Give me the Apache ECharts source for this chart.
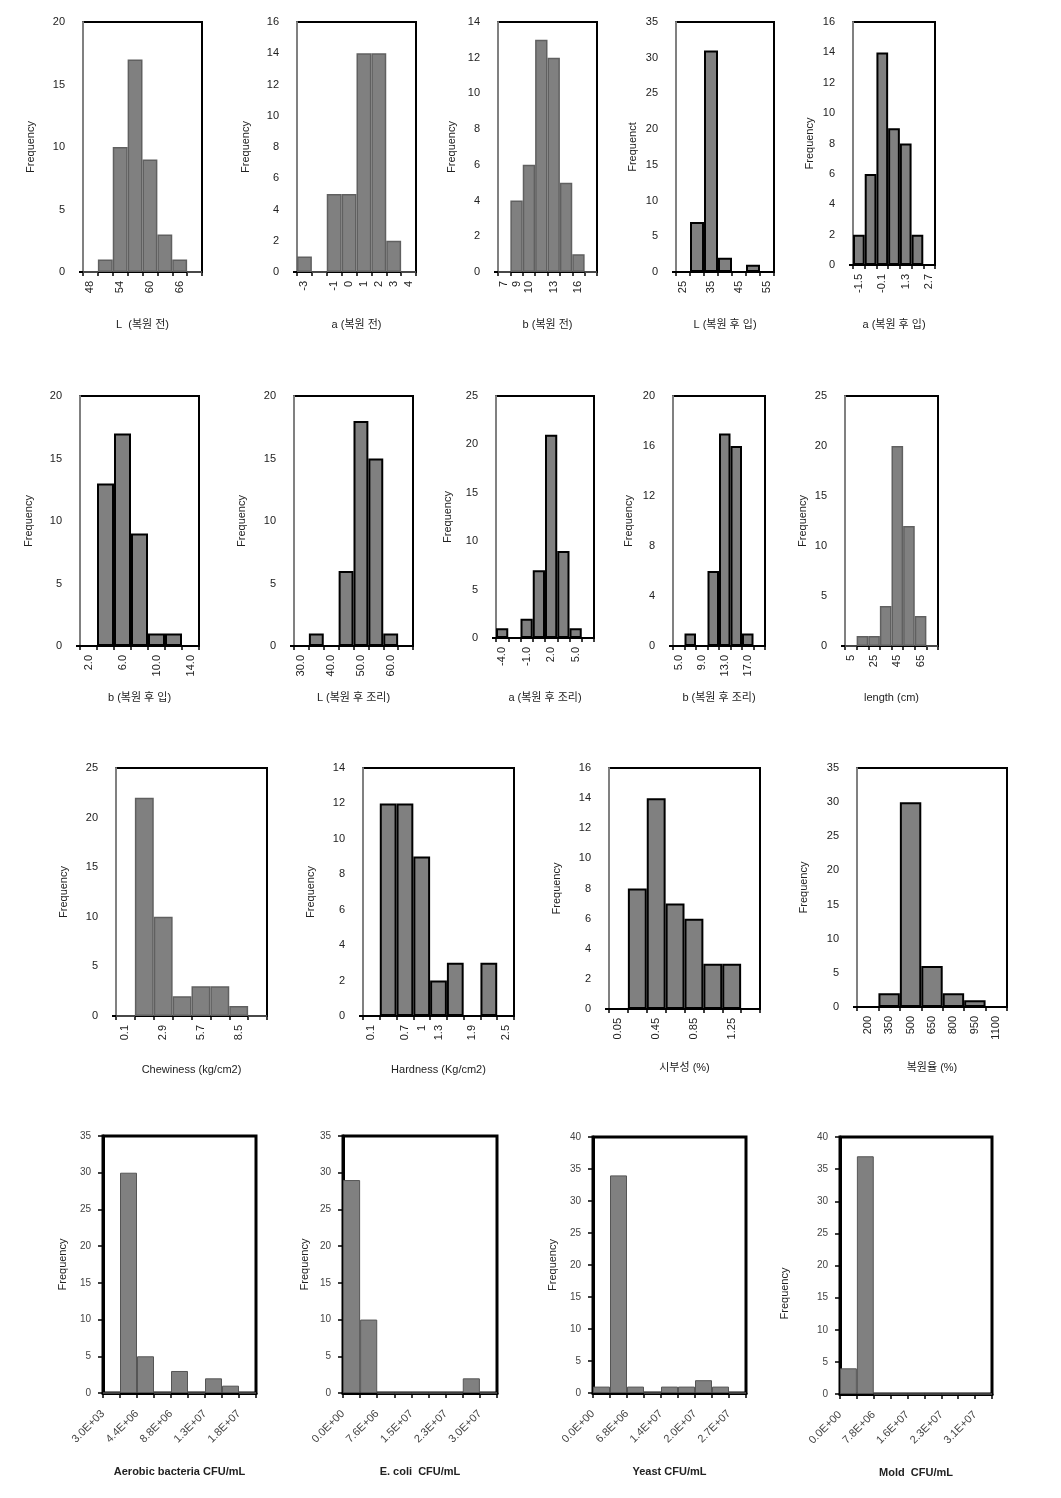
<!DOCTYPE html>
<html><head><meta charset="utf-8">
<script src="https://cdn.jsdelivr.net/npm/echarts@6/dist/echarts.min.js"></script>
<style>html,body{margin:0;padding:0;background:#fff}#c{width:1061px;height:1498px}</style>
</head><body><div id="c"></div>
<script>
// ---------- DATA ----------
// Row 1
const L_before_labels = ['48','','54','','60','','66',''];
const L_before_counts = [0,1,10,17,9,3,1,0];
const a_before_labels = ['-3','','-1','0','1','2','3','4'];
const a_before_counts = [1,0,5,5,14,14,2,0];
const b_before_labels = ['7','9','10','','13','','16',''];
const b_before_counts = [0,4,6,13,12,5,1,0];
const L_imb_labels = ['25','','35','','45','','55'];
const L_imb_counts = [0,7,31,2,0,1,0];
const a_imb_labels = ['-1.5','','-0.1','','1.3','','2.7'];
const a_imb_counts = [2,6,14,9,8,2,0];
// Row 2
const b_imb_labels = ['2.0','','6.0','','10.0','','14.0'];
const b_imb_counts = [0,13,17,9,1,1,0];
const L_cook_labels = ['30.0','','40.0','','50.0','','60.0',''];
const L_cook_counts = [0,1,0,6,18,15,1,0];
const a_cook_labels = ['-4.0','','-1.0','','2.0','','5.0',''];
const a_cook_counts = [1,0,2,7,21,9,1,0];
const b_cook_labels = ['5.0','','9.0','','13.0','','17.0',''];
const b_cook_counts = [0,1,0,6,17,16,1,0];
const length_labels = ['5','','25','','45','','65',''];
const length_counts = [0,1,1,4,20,12,3,0];
// Row 3
const chew_labels = ['0.1','','2.9','','5.7','','8.5',''];
const chew_counts = [0,22,10,2,3,3,1,0];
const hard_labels = ['0.1','','0.7','1','1.3','','1.9','','2.5'];
const hard_counts = [0,12,12,9,2,3,0,3,0];
const pct_labels = ['0.05','','0.45','','0.85','','1.25',''];
const pct_counts = [0,8,14,7,6,3,3,0];
const rehyd_labels = ['200','350','500','650','800','950','1100'];
const rehyd_counts = [0,2,30,6,2,1,0];
// Row 4 (labels at bin edges)
const aerobic_edges = ['3.0E+03','','4.4E+06','','8.8E+06','','1.3E+07','','1.8E+07',''];
const aerobic_counts = [0,30,5,0,3,0,2,1,0];
const ecoli_edges = ['0.0E+00','','7.6E+06','','1.5E+07','','2.3E+07','','3.0E+07',''];
const ecoli_counts = [29,10,0,0,0,0,0,2,0];
const yeast_edges = ['0.0E+00','','6.8E+06','','1.4E+07','','2.0E+07','','2.7E+07',''];
const yeast_counts = [1,34,1,0,1,1,2,1,0];
const mold_edges = ['0.0E+00','','7.8E+06','','1.6E+07','','2.3E+07','','3.1E+07',''];
const mold_counts = [4,37,0,0,0,0,0,0,0];

const yMaxes = [20,16,14,35,16, 20,20,25,20,25, 25,14,16,35, 35,35,40,40];
const yIntervals = [5,2,2,5,2, 5,5,5,4,5, 5,2,2,5, 5,5,5,5];
const xNames = ['L  (복원 전)','a (복원 전)','b (복원 전)','L (복원 후 입)','a (복원 후 입)',
  'b (복원 후 입)','L (복원 후 조리)','a (복원 후 조리)','b (복원 후 조리)','length (cm)',
  'Chewiness (kg/cm2)','Hardness (Kg/cm2)','시부성 (%)','복원율 (%)',
  'Aerobic bacteria CFU/mL','E. coli  CFU/mL','Yeast CFU/mL','Mold  CFU/mL'];
const yNames = ['Frequency','Frequency','Frequency','Frequenct','Frequency',
  'Frequency','Frequency','Frequency','Frequency','Frequency',
  'Frequency','Frequency','Frequency','Frequency',
  'Frequency','Frequency','Frequency','Frequency'];

const binLabels = [L_before_labels,a_before_labels,b_before_labels,L_imb_labels,a_imb_labels,
  b_imb_labels,L_cook_labels,a_cook_labels,b_cook_labels,length_labels,
  chew_labels,hard_labels,pct_labels,rehyd_labels];
const edgeLabels = [aerobic_edges,ecoli_edges,yeast_edges,mold_edges];
const counts = [L_before_counts,a_before_counts,b_before_counts,L_imb_counts,a_imb_counts,
  b_imb_counts,L_cook_counts,a_cook_counts,b_cook_counts,length_counts,
  chew_counts,hard_counts,pct_counts,rehyd_counts,
  aerobic_counts,ecoli_counts,yeast_counts,mold_counts];

// ---------- LAYOUT / STYLE ----------
// [left, right, top, bottom, yNameGap, xNameGap, barBorder]
const layout = [
  [83,202,22,272,47,47,'#606060'],
  [297,416,22,272,46,47,'#606060'],
  [498,597,22,272,41,47,'#606060'],
  [676,774,22,272,38,47,'#000'],
  [853,935,22,265,38,54,'#000'],
  [80,199,396,646,46,46,'#000'],
  [294,413,396,646,47,46,'#000'],
  [496,594,396,638,43,54,'#000'],
  [673,765,396,646,39,46,'#000'],
  [845,938,396,646,37,46,'#606060'],
  [116,267,768,1016,47,48,'#606060'],
  [363,514,768,1016,47,48,'#000'],
  [609,760,768,1009,47,53,'#000'],
  [857,1007,768,1007,48,55,'#000'],
  [103,256,1136,1393,35,73,'#555'],
  [343,497,1136,1393,33,73,'#555'],
  [593,746,1137,1393,35,73,'#555'],
  [840,992,1137,1394,50,73,'#555']
];

const FONT = "'Liberation Sans', 'Noto Sans CJK KR', sans-serif";
const grids = [], xAxes = [], yAxes = [], series = [];

layout.forEach((g, i) => {
  const [l, r, t, b, yGap, xGap, border] = g;
  const bottomRow = i >= 14;
  const gi = grids.length;
  grids.push({
    left: l, top: t, width: r - l, height: b - t,
    show: true, backgroundColor: 'transparent',
    borderColor: '#000', borderWidth: bottomRow ? 3 : 2,
    containLabel: false, outerBoundsMode: 'none'
  });
  const binCats = bottomRow ? counts[i].map((_, k) => 'b' + k) : binLabels[i];
  const xi = xAxes.length;
  xAxes.push({
    type: 'category', gridIndex: gi, data: binCats, position: 'bottom',
    boundaryGap: true,
    axisLine: { show: true, onZero: false, lineStyle: { color: '#000', width: bottomRow ? 3 : 2 } },
    axisTick: { show: true, interval: 0, length: bottomRow ? 5 : 4, lineStyle: { color: '#000', width: 1.5 } },
    axisLabel: {
      show: !bottomRow, interval: 0, rotate: 90, margin: 9,
      fontSize: 11, color: '#222', fontFamily: FONT
    },
    splitLine: { show: false },
    name: xNames[i], nameLocation: 'middle', nameGap: xGap,
    nameTextStyle: { fontSize: 11, color: '#222', fontFamily: FONT,
      fontWeight: bottomRow ? 'bold' : 'normal' }
  });
  if (bottomRow) {
    xAxes.push({
      type: 'category', gridIndex: gi, data: edgeLabels[i - 14], position: 'bottom',
      boundaryGap: false,
      axisLine: { show: false }, axisTick: { show: false },
      axisLabel: { show: true, interval: 0, rotate: 45, margin: 19,
        padding: [10, 0, 0, 0],
        fontSize: 11, color: '#444', fontFamily: FONT },
      splitLine: { show: false }
    });
  }
  yAxes.push({
    type: 'value', gridIndex: gi, min: 0, max: yMaxes[i], interval: yIntervals[i],
    axisLine: { show: true, lineStyle: { color: bottomRow ? '#000' : '#808080', width: bottomRow ? 3 : 2 } },
    axisTick: bottomRow
      ? { show: true, length: 5, lineStyle: { color: '#000', width: 1.5 } }
      : { show: true, length: 4, customValues: [0], lineStyle: { color: '#000', width: 2 } },
    axisLabel: { fontSize: bottomRow ? 10 : 11, color: bottomRow ? '#444' : '#222', margin: bottomRow ? 12 : 18, fontFamily: FONT },
    splitLine: { show: false },
    name: yNames[i], nameLocation: 'middle', nameGap: yGap, nameRotate: 90,
    nameTextStyle: { fontSize: 11, color: '#222', fontFamily: FONT,
      padding: i === 17 ? [0, 56, 0, 0] : 0 }
  });
  series.push({
    type: 'bar', xAxisIndex: xi, yAxisIndex: yAxes.length - 1,
    data: counts[i], barCategoryGap: '0%', barGap: '0%',
    itemStyle: { color: '#808080', borderColor: border, borderWidth: border === '#000' ? 2 : (bottomRow ? 1 : 1.5) },
    silent: true, animation: false
  });
});

const chart = echarts.init(document.getElementById('c'), null, { renderer: 'canvas' });
chart.setOption({
  backgroundColor: '#fff', animation: false,
  grid: grids, xAxis: xAxes, yAxis: yAxes, series: series
});
</script></body></html>
